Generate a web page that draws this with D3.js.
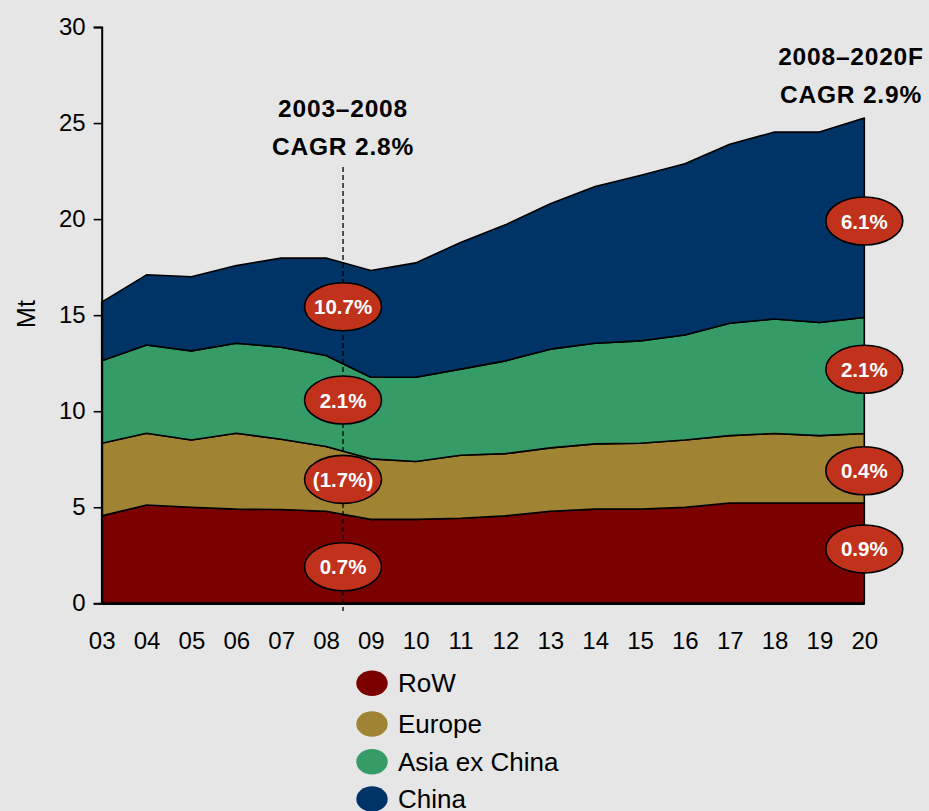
<!DOCTYPE html>
<meta charset="utf-8">
<style>
  body { margin: 0; background: #e6e6e6; }
  text { font-family: Arial, "Liberation Sans", sans-serif; }
</style>
<div id="chart"></div>
<script src="https://cdn.jsdelivr.net/npm/d3@7"></script>
<script>

// years on the x axis
var years = [3, 4, 5, 6, 7, 8, 9, 10, 11, 12, 13, 14, 15, 16, 17, 18, 19, 20];
var yearLabels = ["03","04","05","06","07","08","09","10","11","12","13","14","15","16","17","18","19","20"];

// Mt per region
var row    = [4.55, 5.12, 5.00, 4.90, 4.88, 4.79, 4.37, 4.37, 4.43, 4.55, 4.79, 4.90, 4.90, 5.00, 5.22, 5.22, 5.22, 5.22];
var europe = [3.78, 3.73, 3.50, 3.95, 3.66, 3.37, 3.15, 3.01, 3.28, 3.24, 3.30, 3.40, 3.43, 3.50, 3.51, 3.62, 3.51, 3.62];
var asia   = [4.29, 4.60, 4.64, 4.69, 4.79, 4.74, 4.25, 4.39, 4.48, 4.83, 5.14, 5.24, 5.33, 5.47, 5.85, 5.96, 5.89, 6.04];
var china  = [3.06, 3.65, 3.86, 4.04, 4.64, 5.07, 5.55, 5.95, 6.59, 7.08, 7.57, 8.16, 8.61, 8.91, 9.32, 9.73, 9.91, 10.38];

var seriesNames = ["RoW", "Europe", "Asia ex China", "China"];
var colors = ["#7b0000", "#a08434", "#359c68", "#003366"];

var yTicks = [0, 5, 10, 15, 20, 25, 30];

// CAGR bubbles: [x position (year), y position (Mt), label]
var cagrLeft  = [[8.38, 15.44, "10.7%"], [8.38, 10.58, "2.1%"], [8.38, 6.45, "(1.7%)"], [8.38, 1.9, "0.7%"]];
var cagrRight = [[20, 19.9, "6.1%"], [20, 12.18, "2.1%"], [20, 6.9, "0.4%"], [20, 2.83, "0.9%"]];

var W = 929, H = 811;

var svg = d3.select("#chart").append("svg")
    .attr("width", W)
    .attr("height", H);

svg.append("rect").attr("width", W).attr("height", H).attr("fill", "#e6e6e6");

var x = d3.scaleLinear().domain([3, 20]).range([101.7, 864.3]);
var y = d3.scaleLinear().domain([0, 30]).range([603.3, 27]);

var table = years.map(function(yr, i) {
  return { year: yr, "RoW": row[i], "Europe": europe[i], "Asia ex China": asia[i], "China": china[i] };
});

var stack = d3.stack().keys(seriesNames)(table);

var area = d3.area()
  .x(function(d) { return x(d.data.year); })
  .y0(function(d) { return y(d[0]); })
  .y1(function(d) { return y(d[1]); });

svg.selectAll(".layer")
  .data(stack)
  .enter()
  .append("path")
    .attr("class", "layer")
    .attr("d", area)
    .attr("fill", function(d, i) { return colors[i]; })
    .attr("stroke", "#000")
    .attr("stroke-width", 1.6)
    .attr("stroke-linejoin", "round");

// y axis
var yAxis = svg.append("g")
  .attr("transform", "translate(" + x(3) + ",0)")
  .call(d3.axisLeft(y).tickValues(yTicks).tickSize(8).tickPadding(8));
yAxis.select(".domain").attr("stroke", "#000").attr("stroke-width", 2);
yAxis.selectAll(".tick line").attr("stroke", "#000").attr("stroke-width", 1.6);
yAxis.selectAll(".tick text").attr("font-size", 24).attr("fill", "#000")
  .attr("font-family", "Arial, 'Liberation Sans', sans-serif");

// x axis
var xAxis = svg.append("g")
  .attr("transform", "translate(0," + y(0) + ")")
  .call(d3.axisBottom(x).tickValues(years).tickSize(0).tickPadding(29)
    .tickFormat(function(d, i) { return yearLabels[i]; }));
xAxis.select(".domain").attr("stroke", "#000").attr("stroke-width", 2.4);
xAxis.selectAll(".tick text").attr("font-size", 24).attr("fill", "#000")
  .attr("font-family", "Arial, 'Liberation Sans', sans-serif");

// y label
svg.append("text")
  .attr("transform", "translate(35,314) rotate(-90)")
  .attr("text-anchor", "middle")
  .attr("font-size", 25)
  .text("Mt");

// dashed divider
svg.append("line")
  .attr("x1", x(8.38)).attr("x2", x(8.38))
  .attr("y1", 167).attr("y2", 611)
  .attr("stroke", "#000")
  .attr("stroke-width", 1.3)
  .attr("stroke-dasharray", "5,3");

// CAGR annotations
function heading(cx, y1, lines) {
  svg.append("text")
    .attr("x", cx).attr("y", y1)
    .attr("text-anchor", "middle")
    .attr("font-size", 24.5)
    .attr("font-weight", "bold")
    .attr("letter-spacing", 0.8)
    .text(lines[0]);
  svg.append("text")
    .attr("x", cx).attr("y", y1 + 38)
    .attr("text-anchor", "middle")
    .attr("font-size", 24.5)
    .attr("font-weight", "bold")
    .attr("letter-spacing", 0.8)
    .text(lines[1]);
}
heading(x(8.38), 117, ["2003\u20132008", "CAGR 2.8%"]);
heading(851, 65, ["2008\u20132020F", "CAGR 2.9%"]);

// bubbles
var bubbles = svg.selectAll(".bubble")
  .data(cagrLeft.concat(cagrRight))
  .enter()
  .append("g")
    .attr("class", "bubble")
    .attr("transform", function(d) { return "translate(" + x(d[0]) + "," + y(d[1]) + ")"; });

bubbles.append("ellipse")
  .attr("rx", 38.5)
  .attr("ry", 24)
  .attr("fill", "#c0321c")
  .attr("stroke", "#000")
  .attr("stroke-width", 1.6);

bubbles.append("text")
  .attr("text-anchor", "middle")
  .attr("dy", 7.5)
  .attr("font-size", 20.5)
  .attr("font-weight", "bold")
  .attr("fill", "#fff")
  .text(function(d) { return d[2]; });

// legend
var legend = svg.selectAll(".legend")
  .data(seriesNames)
  .enter()
  .append("g")
    .attr("class", "legend")
    .attr("transform", function(d, i) { return "translate(372," + [683.3, 724, 761.7, 799][i] + ")"; });

legend.append("ellipse")
  .attr("rx", 15.7)
  .attr("ry", 12.7)
  .attr("fill", function(d, i) { return colors[i]; });

legend.append("text")
  .attr("x", 26)
  .attr("dy", 9)
  .attr("font-size", 26)
  .text(function(d) { return d; });

</script>
